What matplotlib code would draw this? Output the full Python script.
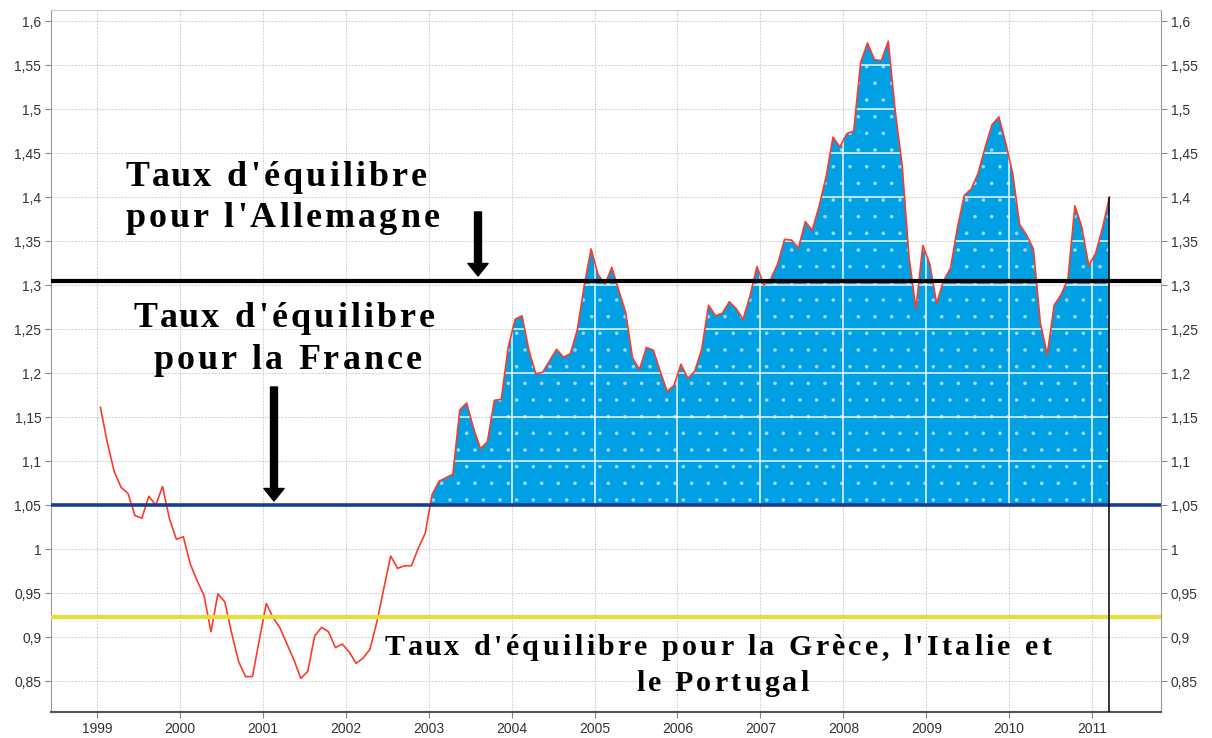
import numpy as np
import matplotlib
matplotlib.use('Agg')
import matplotlib.pyplot as plt
from matplotlib.font_manager import FontProperties

# cours moyen mensuel euro / dollar, janvier 1999 -> mars 2011
eur_usd = [
    1.161, 1.121, 1.088, 1.070, 1.063, 1.038, 1.035, 1.060, 1.050, 1.071, 1.034, 1.011,  # 1999
    1.014, 0.983, 0.964, 0.947, 0.906, 0.949, 0.940, 0.904, 0.872, 0.855, 0.855, 0.897,  # 2000
    0.938, 0.922, 0.910, 0.892, 0.874, 0.853, 0.861, 0.901, 0.911, 0.906, 0.888, 0.892,  # 2001
    0.883, 0.870, 0.876, 0.886, 0.917, 0.955, 0.992, 0.978, 0.981, 0.981, 1.001, 1.018,  # 2002
    1.062, 1.077, 1.081, 1.085, 1.158, 1.166, 1.137, 1.114, 1.122, 1.169, 1.170, 1.229,  # 2003
    1.261, 1.265, 1.226, 1.199, 1.201, 1.214, 1.227, 1.218, 1.222, 1.249, 1.299, 1.341,  # 2004
    1.312, 1.301, 1.320, 1.294, 1.269, 1.217, 1.204, 1.229, 1.226, 1.202, 1.179, 1.186,  # 2005
    1.210, 1.194, 1.202, 1.227, 1.277, 1.265, 1.268, 1.281, 1.273, 1.261, 1.288, 1.321,  # 2006
    1.300, 1.307, 1.324, 1.352, 1.351, 1.342, 1.372, 1.362, 1.390, 1.423, 1.468, 1.457,  # 2007
    1.472, 1.475, 1.553, 1.575, 1.556, 1.555, 1.577, 1.498, 1.437, 1.332, 1.273, 1.345,  # 2008
    1.324, 1.279, 1.305, 1.319, 1.365, 1.402, 1.409, 1.427, 1.456, 1.482, 1.491, 1.461,  # 2009
    1.427, 1.369, 1.357, 1.341, 1.257, 1.221, 1.277, 1.289, 1.307, 1.390, 1.366, 1.322,  # 2010
    1.336, 1.365, 1.400,                                                                 # 2011
]
first_year = 1999
years = list(range(1999, 2012))
y_ticks = [0.85, 0.9, 0.95, 1.0, 1.05, 1.1, 1.15, 1.2, 1.25, 1.3, 1.35, 1.4, 1.45, 1.5, 1.55, 1.6]

taux_allemagne = 1.304
taux_france = 1.05
taux_sud = 0.923

W, H = 1212, 738
plt.rcParams['hatch.color'] = '#9ad8f4'
plt.rcParams['hatch.linewidth'] = 0.2

y = np.array(eur_usd)
x = first_year + (np.arange(len(y)) + 0.5) / 12

fig = plt.figure(figsize=(W / 100, H / 100), dpi=100)
ax = fig.add_axes([51 / W, 26 / H, 1110 / W, 702 / H])
ax.set_xlim(1998.446, 2011.83)
ax.set_ylim(0.8148, 1.6125)

ax.set_xticks(years)
ax.set_xticklabels([str(a) for a in years])
ax.set_yticks(y_ticks)
ax.set_yticklabels([f"{v:g}".replace('.', ',') for v in y_ticks])
ax.grid(color='#d6d6d6', linestyle=(0, (2, 1)), linewidth=0.8, zorder=0.5)
ax.set_axisbelow(True)

ax.tick_params(axis='y', left=True, right=True, labelleft=True, labelright=True,
               direction='out', length=4, color='#888888', pad=3, labelsize=10,
               labelcolor='#333333')
ax.tick_params(axis='x', direction='out', length=4, color='#888888', pad=3,
               labelsize=10, labelcolor='#333333')
for lab in ax.get_xticklabels() + ax.get_yticklabels():
    lab.set_family('Liberation Sans')
ax.spines['top'].set_color('#cccccc')
ax.spines['left'].set_color('#999999')
ax.spines['right'].set_color('#999999')
ax.spines['bottom'].set_color('#555555')
ax.spines['bottom'].set_linewidth(1.5)

# zone au-dessus du taux francais depuis 2003
poly = ax.fill_between(x, y, taux_france, where=(y >= taux_france) & (x > 2003),
                       interpolate=True, facecolor='#00a0e4', edgecolor='#9ad8f4',
                       linewidth=0, hatch='.', zorder=1)
clip = poly.get_paths()[0]
for v in y_ticks:
    gl = ax.axhline(v, color='#eef8fd', lw=1.1, zorder=1.5)
    gl.set_clip_path(clip, ax.transData)
for a in years:
    gl = ax.axvline(a, color='#eef8fd', lw=1.1, zorder=1.5)
    gl.set_clip_path(clip, ax.transData)

ax.plot(x, y, color='#ff3a2a', lw=1.2, zorder=2)

ax.axhline(taux_allemagne, color='black', lw=3, zorder=3)
ax.axhline(taux_france, color='#1b3d96', lw=2.6, zorder=3)
ax.axhline(taux_sud, color='#e5df3a', lw=3, zorder=3)
ax.vlines(x[-1], ax.get_ylim()[0], y[-1], color='black', lw=1.1, zorder=3)

# fleches
arrow = dict(width=5, headwidth=14.5, headlength=9, facecolor='black',
             edgecolor='black', shrink=0)
fig.add_artist(plt.Annotation('', xy=(478, H - 276), xytext=(478, H - 212),
                              xycoords='figure pixels', arrowprops=arrow))
fig.add_artist(plt.Annotation('', xy=(274, H - 501), xytext=(274, H - 387),
                              xycoords='figure pixels', arrowprops=arrow))

renderer = fig.canvas.get_renderer()


def spaced(px_x, px_y, s, px_size, gap):
    prop = FontProperties(family='Liberation Serif', weight='bold', size=px_size * 0.72)

    def w(t):
        return renderer.get_text_width_height_descent(t, prop, ismath=False)[0]

    ref = w('x')
    for i, ch in enumerate(s):
        if ch == ' ':
            continue
        off = w(s[:i] + 'x') - ref + i * gap
        fig.text((px_x + off) / W, 1 - px_y / H, ch, fontproperties=prop,
                 va='baseline', ha='left', zorder=5)


spaced(125, 186, "Taux d'équilibre", 36, 3.2)
spaced(125, 227, "pour l'Allemagne", 36, 3.2)
spaced(133, 327, "Taux d'équilibre", 36, 3.2)
spaced(153, 369, "pour la France", 36, 3.2)
spaced(385, 655, "Taux d'équilibre pour la Grèce, l'Italie et", 30, 3.4)
spaced(636, 691, "le Portugal", 30, 3.2)

fig.savefig('out.png', dpi=100)
